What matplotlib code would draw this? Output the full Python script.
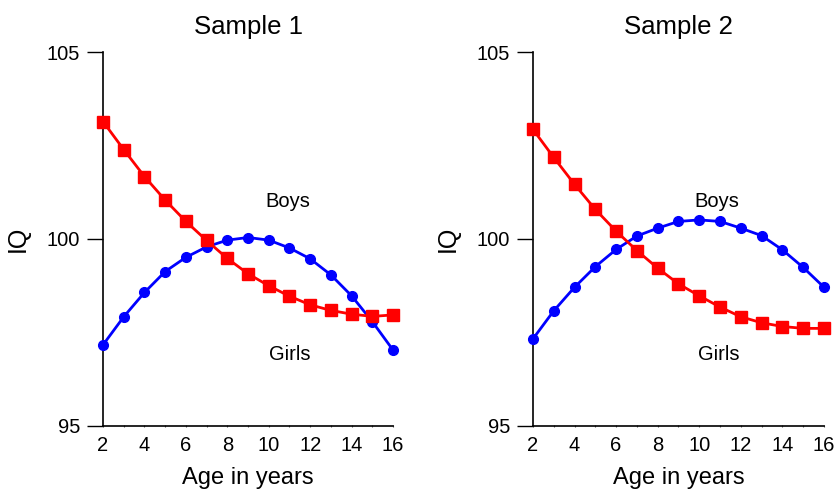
import matplotlib
matplotlib.use('Agg')
import matplotlib.pyplot as plt

plt.rcParams['font.family'] = ['Liberation Sans', 'DejaVu Sans']

ages = list(range(2, 17))
age_ticks = [2, 4, 6, 8, 10, 12, 14, 16]
iq_ticks = [95, 100, 105]

red_1 = [103.14, 102.39, 101.67, 101.04, 100.47, 99.96, 99.48, 99.07,
         98.75, 98.47, 98.24, 98.09, 97.99, 97.93, 97.97]
blue_1 = [97.17, 97.92, 98.57, 99.13, 99.51, 99.79, 99.97, 100.04,
          99.97, 99.76, 99.47, 99.04, 98.48, 97.79, 97.03]
red_2 = [102.93, 102.18, 101.46, 100.79, 100.21, 99.69, 99.22, 98.80,
         98.48, 98.18, 97.92, 97.76, 97.66, 97.61, 97.61]
blue_2 = [97.33, 98.08, 98.71, 99.26, 99.72, 100.08, 100.29, 100.47,
          100.51, 100.47, 100.29, 100.09, 99.71, 99.24, 98.71]

titles = ['Sample 1', 'Sample 2']
boys_label = 'Boys'
girls_label = 'Girls'


def draw_panel(ax, red, blue, title, boys_pos, girls_pos):
    ax.plot(ages, blue, color='#0000ff', lw=2.0, marker='o', ms=7,
            mec='#0000ff', clip_on=False, zorder=3)
    ax.plot(ages, red, color='#ff0000', lw=2.0, marker='s', ms=8,
            mec='#ff0000', clip_on=False, zorder=4)
    ax.set_xlim(2, 16)
    ax.set_ylim(95, 105)
    ax.set_xticks(ages)
    ax.set_xticklabels([str(a) if a in age_ticks else '' for a in ages])
    ax.set_yticks(iq_ticks)
    ax.tick_params(axis='y', length=11.5, width=1, pad=5, labelsize=14.5)
    ax.tick_params(axis='x', length=2, width=0.8, direction='inout',
                   pad=6, labelsize=14.5, color='#555555')
    for side in ['top', 'right']:
        ax.spines[side].set_visible(False)
    ax.spines['left'].set_linewidth(1.2)
    ax.spines['bottom'].set_linewidth(1.2)
    ax.set_title(title, fontsize=18.5, pad=13)
    ax.set_xlabel('Age in years', fontsize=17, labelpad=9)
    ax.set_ylabel('IQ', fontsize=18, labelpad=12)
    ax.text(boys_pos[0], boys_pos[1], boys_label, fontsize=14.5,
            ha='center', va='center')
    ax.text(girls_pos[0], girls_pos[1], girls_label, fontsize=14.5,
            ha='center', va='center')


fig = plt.figure(figsize=(8.35, 4.94), dpi=100)
ax1 = fig.add_axes([0.1234, 0.1377, 0.3473, 0.757])
ax2 = fig.add_axes([0.6383, 0.1377, 0.3485, 0.757])

draw_panel(ax1, red_1, blue_1, titles[0], (10.9, 101.0), (11.0, 96.9))
draw_panel(ax2, red_2, blue_2, titles[1], (10.85, 101.0), (10.95, 96.9))

fig.savefig('out.png', dpi=100)
